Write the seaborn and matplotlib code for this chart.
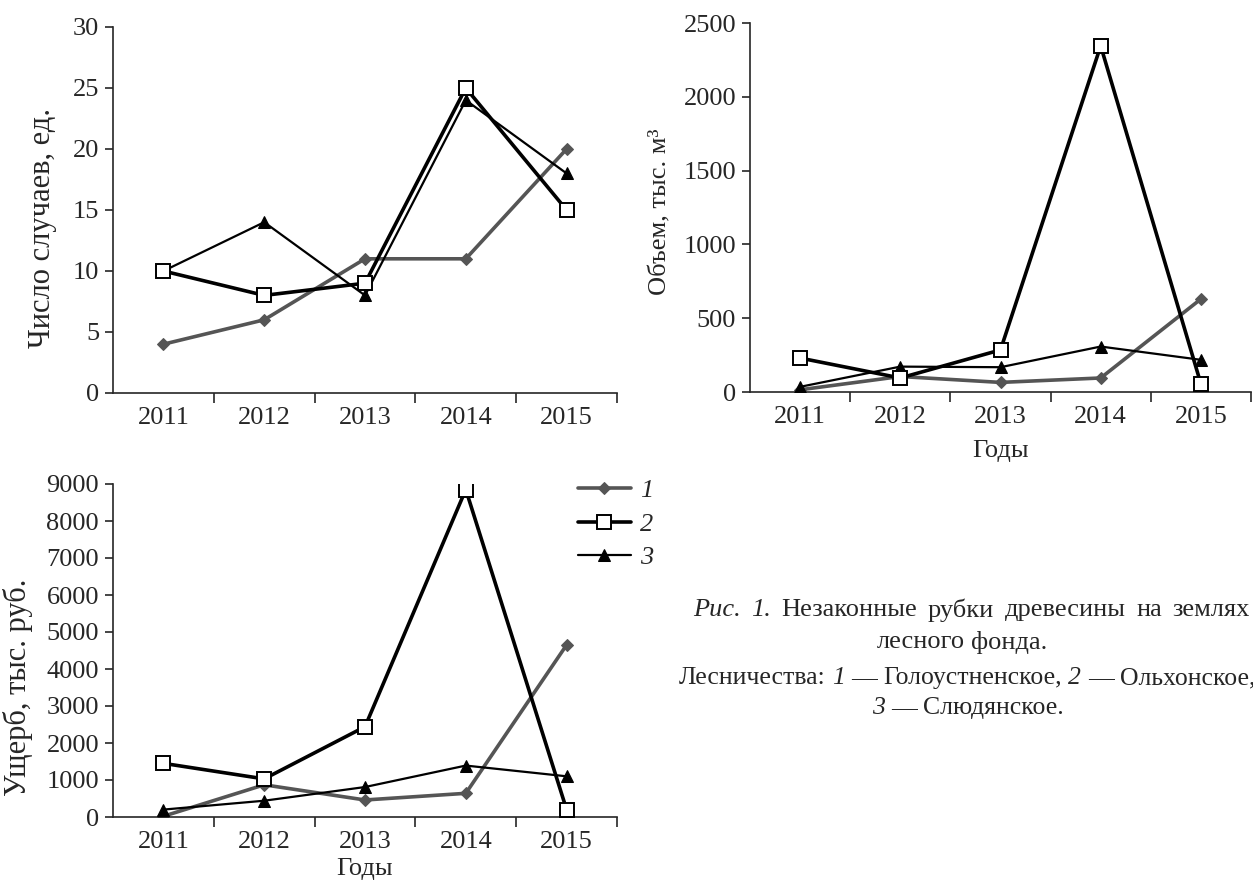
import matplotlib
matplotlib.use("Agg")
import matplotlib.pyplot as plt
from matplotlib.ticker import FixedLocator, MultipleLocator
from matplotlib.transforms import IdentityTransform
import numpy as np
import pandas as pd
import seaborn as sns

years = ["2011", "2012", "2013", "2014", "2015"]
series_names = ["1", "2", "3"]

# число случаев, ед.
cases_1 = [4, 6, 11, 11, 20]
cases_2 = [10, 8, 9, 25, 15]
cases_3 = [10, 14, 8, 24, 18]

# объем, тыс. м3
volume_1 = [15, 105, 65, 95, 630]
volume_2 = [230, 95, 285, 2345, 55]
volume_3 = [35, 172, 168, 308, 218]

# ущерб, тыс. руб.
damage_1 = [20, 870, 460, 640, 4650]
damage_2 = [1450, 1030, 2440, 8850, 200]
damage_3 = [200, 440, 810, 1390, 1100]

sns.set_theme(style="ticks")
plt.rcParams["font.family"] = ["Liberation Serif", "DejaVu Serif"]
plt.rcParams["axes.linewidth"] = 1.2

W, H = 1253, 886
fig = plt.figure(figsize=(W / 100, H / 100), dpi=100)

styles = {
    "1": dict(color="#555555", lw=2.6, marker="D", markersize=6.5,
              markerfacecolor="#555555", markeredgecolor="#555555", zorder=2),
    "2": dict(color="black", lw=2.6, marker="s", markersize=10.5,
              markerfacecolor="white", markeredgecolor="black",
              markeredgewidth=1.4, zorder=4),
    "3": dict(color="black", lw=1.6, marker="^", markersize=9,
              markerfacecolor="black", markeredgecolor="black", zorder=3),
}


def px_axes(left, right, top, bottom):
    return fig.add_axes([left / W, 1 - bottom / H, (right - left) / W, (bottom - top) / H])


def panel(ax, values, ymax, ystep, ylabel, label_pos, label_size, xlabel=None, xpad=4):
    df = pd.DataFrame({"year": years * 3,
                       "value": values[0] + values[1] + values[2],
                       "series": [s for s in series_names for _ in years]})
    for name in ["1", "3", "2"]:
        sub = df[df["series"] == name]
        sns.lineplot(data=sub, x="year", y="value", ax=ax, label=name,
                     legend=False, **styles[name])
    ax.set_xlim(-0.5, 4.5)
    ax.set_ylim(0, ymax)
    ax.yaxis.set_major_locator(MultipleLocator(ystep))
    ax.xaxis.set_minor_locator(FixedLocator([0.5, 1.5, 2.5, 3.5, 4.5]))
    ax.tick_params(axis="x", which="major", length=0, pad=10, labelsize=19)
    ax.tick_params(axis="x", which="minor", length=7, width=1.2, direction="out")
    ax.tick_params(axis="y", length=6, width=1.2, direction="out", pad=4, labelsize=19)
    for s in ["top", "right"]:
        ax.spines[s].set_visible(False)
    ax.set_ylabel(ylabel, fontsize=label_size)
    ax.yaxis.set_label_coords(*label_pos)
    ax.set_xlabel(xlabel if xlabel else "", fontsize=19, labelpad=xpad)
    ax.grid(False)


ax1 = px_axes(113, 617, 27, 393)
panel(ax1, [cases_1, cases_2, cases_3], 30, 5, "Число случаев, ед.", (-0.111, 0.45), 22)

ax2 = px_axes(750, 1251, 23, 392)
panel(ax2, [volume_1, volume_2, volume_3], 2500, 500, "Объем, тыс. м³", (-0.156, 0.488), 19,
      "Годы", xpad=9)

ax3 = px_axes(113, 617, 484, 817)
panel(ax3, [damage_1, damage_2, damage_3], 9000, 1000, "Ущерб, тыс. руб.", (-0.158, 0.39), 22,
      "Годы")

handles, labels = ax3.get_legend_handles_labels()
order = [labels.index(n) for n in series_names]
fig.legend([handles[i] for i in order], [labels[i] for i in order],
           loc="upper left", bbox_to_anchor=(578 / W, 1 - 479 / H),
           frameon=False, prop={"style": "italic", "size": 19},
           handlelength=2.0, handletextpad=0.35, labelspacing=0.38,
           borderaxespad=0, borderpad=0)

# подпись к рисунку
fig.canvas.draw()
renderer = fig.canvas.get_renderer()


def caption_line(segments, yc, size, x0=None, x1=None, xc=966):
    words = []
    for s, st in segments:
        for w in s.split(" "):
            words.append((w, st))
    texts = [fig.text(0, 0, w, fontsize=size, style=st, va="center", ha="left",
                      transform=IdentityTransform()) for w, st in words]
    widths = [t.get_window_extent(renderer).width for t in texts]
    if x0 is not None and len(texts) > 1:
        gap = (x1 - x0 - sum(widths)) / (len(texts) - 1)
        x = x0
    else:
        gap = size * 100 / 72 * 0.25
        x = xc - (sum(widths) + gap * (len(texts) - 1)) / 2
    for t, w in zip(texts, widths):
        t.set_position((x, H - yc))
        x += w + gap


caption_line([("Рис. 1.", "italic"), ("Незаконные рубки древесины на землях", "normal")],
             610, 19, 693, 1250)
caption_line([("лесного фонда.", "normal")], 642, 19, xc=962)
caption_line([("Лесничества:", "normal"), ("1", "italic"), ("— Голоустненское,", "normal"),
              ("2", "italic"), ("— Ольхонское,", "normal")], 678, 18.5, xc=967)
caption_line([("3", "italic"), ("— Слюдянское.", "normal")], 708, 18.5, xc=968)

fig.savefig("out.png", dpi=100, facecolor="white")
